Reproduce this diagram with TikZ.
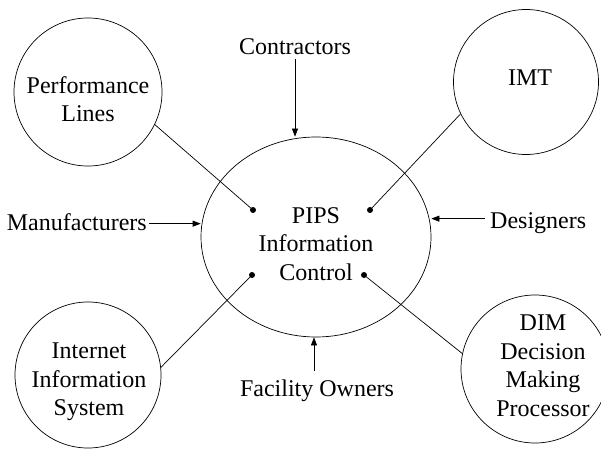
\documentclass[tikz,border=0pt]{standalone}
\usepackage{fontspec}
\setmainfont{Liberation Serif}
\usetikzlibrary{arrows.meta,shapes.geometric}
\begin{document}
\begin{tikzpicture}[x=1pt,y=-1pt,
  bubble/.style={draw,circle,line width=0.7pt,inner sep=0pt,minimum size=#1},
  bubble/.default=148pt,
  txt/.style={font=\fontsize{24}{28.5}\selectfont,align=center,inner sep=0pt},
  dotn/.style={circle,fill,inner sep=0pt,minimum size=6pt},
  link/.style={line width=0.7pt},
  arr/.style={line width=0.7pt,-{Triangle[length=8pt,width=6pt]}}]
\useasboundingbox (0,0) rectangle (601,449);
% central ellipse
\node[draw,ellipse,line width=0.7pt,inner sep=0pt,minimum width=230pt,minimum height=200pt] (pips) at (316,237) {};
\node[txt] (pipst) at (316,244) {PIPS\\Information\\Control};
% satellite circles
\node[bubble] (pl) at (88,92) {};
\node[txt] (plt) at (88,99) {Performance\\Lines};
\node[bubble=145pt] (imt) at (526,82) {};
\node[txt] (imtt) at (530,78) {IMT};
\node[bubble=146pt] (iis) at (88,375) {};
\node[txt] (iist) at (89,382) {Internet\\Information\\System};
\node[bubble] (dim) at (535,369) {};
\node[txt] (dimt) at (543,366) {DIM\\Decision\\Making\\Processor};
% dots
\node[dotn] (d1) at (253,210) {};
\node[dotn] (d2) at (370,210) {};
\node[dotn] (d3) at (252,275) {};
\node[dotn] (d4) at (364,275) {};
% links
\draw[link] (pl.-26) -- (d1.center);
\draw[link] (imt.-154) -- (d2.center);
\draw[link] (iis.6) -- (d3.center);
\draw[link] (dim.168) -- (d4.center);
% stakeholder labels
\node[txt,anchor=base] (con) at (295,55) {Contractors};
\node[txt,anchor=base east] (man) at (147,230) {Manufacturers};
\node[txt,anchor=base west] (des) at (490,228) {Designers};
\node[txt,anchor=base] (fac) at (317,396) {Facility Owners};
% arrow tails
\coordinate (conS) at ([yshift=-4pt]con.south);
\coordinate (manE) at ([xshift=2pt,yshift=-2pt]man.east);
\coordinate (desW) at ([xshift=-5pt,yshift=4pt]des.west);
\coordinate (facN) at ([xshift=-3pt,yshift=8pt]fac.north);
% arrows
\draw[arr] (conS) -- (conS |- pips.north);
\draw[arr] (manE) -- (pips.west |- manE);
\draw[arr] (desW) -- (pips.east |- desW);
\draw[arr] (facN) -- (facN |- pips.south);
\end{tikzpicture}
\end{document}
